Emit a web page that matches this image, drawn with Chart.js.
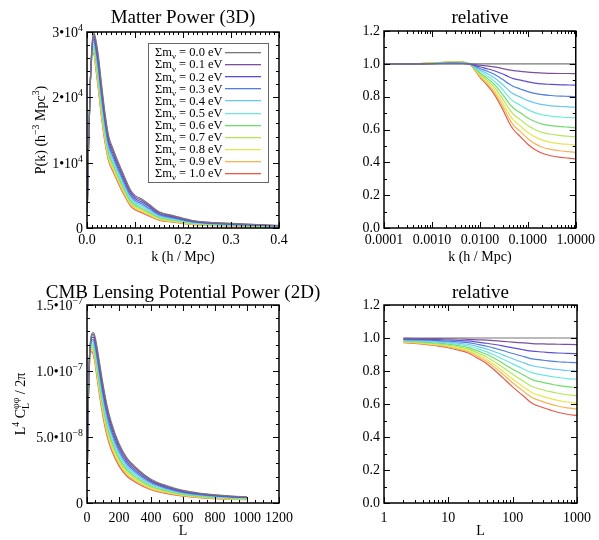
<!DOCTYPE html>
<html>
<head>
<meta charset="utf-8">
<title>Neutrino mass: matter power and CMB lensing power</title>
<script src="https://cdn.jsdelivr.net/npm/chart.js@4.4.1/dist/chart.umd.min.js"></script>
<style>
  html, body { margin: 0; padding: 0; background: #fff; }
  #wrap { position: relative; width: 599px; height: 540px; overflow: hidden; }
  #wrap canvas { position: absolute; }
</style>
</head>
<body>
<div id="wrap">
  <canvas id="matter" width="300" height="270" style="left:0;top:0"></canvas>
  <canvas id="lens" width="340" height="270" style="left:0;top:270px"></canvas>
  <canvas id="matterRel" width="299" height="270" style="left:300px;top:0"></canvas>
  <canvas id="lensRel" width="299" height="270" style="left:300px;top:270px"></canvas>
</div>
<script>
const FONT = '"Liberation Serif", "Times New Roman", Times, serif';

// summed neutrino masses (eV) and their line colours
const masses = ['0.0', '0.1', '0.2', '0.3', '0.4', '0.5', '0.6', '0.7', '0.8', '0.9', '1.0'];
const lineColors = ['#777777', '#7b4f9e', '#5e4fd0', '#4f7fe0', '#6cc8ee', '#6fe8dc',
                    '#72dc6e', '#b0e85a', '#e6e650', '#f4b455', '#e65a4a'];

// --- matter power P(k), h^-3 Mpc^3 (top left) ---
const kLin = [0.0005, 0.003, 0.007, 0.011, 0.014, 0.018, 0.024, 0.03, 0.037, 0.045, 0.055,
              0.065, 0.075, 0.09, 0.1, 0.115, 0.13, 0.15, 0.18, 0.22, 0.3, 0.4];
const pkMatter = [
  [2500, 12000, 22500, 28500, 30000, 29000, 26200, 22200, 17900, 14100, 12000, 10100, 8400, 5900, 5000, 4400, 3600, 2500, 1900, 1150, 700, 400],
  [2500, 12010, 22470, 28290, 29660, 28550, 25670, 21670, 17430, 13700, 11640, 9770, 8090, 5650, 4770, 4180, 3410, 2370, 1790, 1085, 660, 377],
  [2500, 12030, 22440, 28060, 29260, 28020, 25040, 21050, 16880, 13240, 11220, 9380, 7720, 5350, 4510, 3930, 3200, 2210, 1670, 1010, 614, 350],
  [2500, 12050, 22410, 27820, 28860, 27490, 24420, 20420, 16330, 12770, 10800, 8990, 7360, 5050, 4240, 3680, 2980, 2050, 1550, 935, 567, 323],
  [2500, 12060, 22380, 27590, 28490, 27000, 23840, 19850, 15810, 12340, 10410, 8630, 7020, 4770, 3990, 3440, 2780, 1900, 1430, 865, 524, 298],
  [2500, 12080, 22350, 27370, 28120, 26510, 23260, 19270, 15300, 11910, 10020, 8270, 6680, 4500, 3750, 3210, 2580, 1760, 1320, 795, 481, 273],
  [2500, 12090, 22320, 27170, 27780, 26060, 22730, 18740, 14830, 11520, 9660, 7930, 6370, 4240, 3520, 2990, 2390, 1620, 1210, 731, 441, 249],
  [2500, 12110, 22300, 26980, 27460, 25640, 22240, 18250, 14390, 11150, 9330, 7630, 6080, 4010, 3310, 2790, 2220, 1500, 1120, 671, 404, 228],
  [2500, 12120, 22280, 26810, 27180, 25270, 21790, 17800, 14000, 10820, 9030, 7350, 5820, 3800, 3120, 2610, 2070, 1390, 1030, 618, 371, 209],
  [2500, 12130, 22260, 26650, 26920, 24930, 21390, 17400, 13650, 10520, 8760, 7100, 5590, 3610, 2950, 2450, 1930, 1290, 950, 569, 341, 192],
  [2500, 12140, 22240, 26520, 26690, 24630, 21030, 17050, 13330, 10260, 8520, 6880, 5380, 3440, 2800, 2310, 1800, 1200, 880, 526, 314, 176]
];

// --- P(k) relative to the massless case (top right) ---
const kLog = [0.0001, 0.0003, 0.001, 0.002, 0.003, 0.0045, 0.006, 0.008, 0.01, 0.014, 0.02,
              0.03, 0.04, 0.05, 0.07, 0.1, 0.14, 0.2, 0.3, 0.5, 0.7, 1.0];
const pkRatio = [
  [1, 1, 1, 1, 1, 1, 1, 1, 1, 1, 1, 1, 1, 1, 1, 1, 1, 1, 1, 1, 1, 1],
  [1, 1, 1, 1.001, 1.001, 1.001, 1, 0.996, 0.992, 0.987, 0.981, 0.971, 0.963, 0.959, 0.954, 0.949, 0.946, 0.944, 0.942, 0.941, 0.941, 0.94],
  [1, 1, 1.001, 1.002, 1.003, 1.002, 1, 0.991, 0.982, 0.971, 0.958, 0.938, 0.921, 0.910, 0.901, 0.890, 0.883, 0.878, 0.875, 0.872, 0.871, 0.87],
  [1, 1, 1.002, 1.004, 1.005, 1.003, 1, 0.986, 0.972, 0.956, 0.936, 0.904, 0.878, 0.862, 0.847, 0.831, 0.820, 0.812, 0.807, 0.803, 0.802, 0.80],
  [1, 1, 1.002, 1.005, 1.006, 1.004, 1, 0.981, 0.963, 0.942, 0.915, 0.873, 0.838, 0.817, 0.797, 0.776, 0.762, 0.751, 0.744, 0.740, 0.738, 0.735],
  [1, 1, 1.002, 1.006, 1.008, 1.006, 1, 0.977, 0.954, 0.927, 0.894, 0.842, 0.799, 0.772, 0.748, 0.721, 0.703, 0.690, 0.682, 0.676, 0.673, 0.67],
  [1, 1, 1.003, 1.008, 1.009, 1.007, 1, 0.973, 0.945, 0.914, 0.875, 0.813, 0.762, 0.731, 0.702, 0.670, 0.649, 0.633, 0.624, 0.617, 0.614, 0.61],
  [1, 1, 1.003, 1.009, 1.011, 1.007, 1, 0.969, 0.938, 0.902, 0.858, 0.786, 0.729, 0.693, 0.660, 0.624, 0.600, 0.582, 0.571, 0.563, 0.559, 0.555],
  [1, 1, 1.004, 1.010, 1.012, 1.008, 1, 0.965, 0.931, 0.891, 0.842, 0.762, 0.698, 0.658, 0.621, 0.582, 0.555, 0.535, 0.522, 0.513, 0.510, 0.505],
  [1, 1, 1.004, 1.010, 1.013, 1.009, 1, 0.962, 0.924, 0.881, 0.827, 0.741, 0.671, 0.627, 0.587, 0.544, 0.514, 0.492, 0.479, 0.469, 0.465, 0.46],
  [1, 1, 1.004, 1.011, 1.014, 1.010, 1, 0.959, 0.919, 0.872, 0.814, 0.722, 0.646, 0.600, 0.556, 0.510, 0.478, 0.455, 0.440, 0.430, 0.426, 0.42]
];

// --- lensing potential power L^4 C_L / 2pi, in units of 1e-8 (bottom left) ---
const ell = [2, 5, 10, 15, 20, 30, 40, 50, 60, 80, 100, 125, 150, 200, 250, 300, 400, 500, 600, 700, 800, 900, 1000];
const clLens = [
  [2.40, 5.50, 9.00, 11.00, 12.00, 12.80, 12.90, 12.60, 12.00, 10.50, 9.00, 7.40, 6.20, 4.50, 3.40, 2.75, 1.80, 1.30, 0.95, 0.75, 0.62, 0.53, 0.47],
  [2.40, 5.48, 8.96, 10.94, 11.92, 12.69, 12.76, 12.43, 11.81, 10.29, 8.79, 7.20, 6.02, 4.36, 3.28, 2.65, 1.73, 1.25, 0.91, 0.72, 0.60, 0.51, 0.45],
  [2.39, 5.46, 8.91, 10.86, 11.82, 12.53, 12.56, 12.19, 11.54, 10.00, 8.50, 6.94, 5.78, 4.16, 3.12, 2.51, 1.64, 1.18, 0.86, 0.68, 0.56, 0.48, 0.43],
  [2.39, 5.44, 8.87, 10.79, 11.71, 12.38, 12.36, 11.96, 11.28, 9.71, 8.22, 6.67, 5.53, 3.96, 2.96, 2.38, 1.55, 1.11, 0.81, 0.64, 0.53, 0.45, 0.40],
  [2.38, 5.42, 8.82, 10.71, 11.62, 12.24, 12.18, 11.74, 11.04, 9.45, 7.96, 6.42, 5.31, 3.78, 2.82, 2.26, 1.46, 1.05, 0.77, 0.60, 0.50, 0.42, 0.38],
  [2.38, 5.40, 8.78, 10.64, 11.52, 12.10, 12.00, 11.53, 10.80, 9.19, 7.70, 6.18, 5.08, 3.60, 2.67, 2.13, 1.38, 0.99, 0.72, 0.57, 0.47, 0.40, 0.35],
  [2.37, 5.38, 8.73, 10.57, 11.42, 11.96, 11.82, 11.31, 10.56, 8.93, 7.43, 5.93, 4.86, 3.42, 2.52, 2.01, 1.29, 0.93, 0.67, 0.53, 0.44, 0.37, 0.33],
  [2.37, 5.37, 8.69, 10.50, 11.33, 11.81, 11.64, 11.10, 10.32, 8.66, 7.17, 5.69, 4.64, 3.24, 2.38, 1.88, 1.21, 0.86, 0.63, 0.49, 0.41, 0.34, 0.31],
  [2.36, 5.35, 8.64, 10.44, 11.24, 11.69, 11.47, 10.91, 10.10, 8.43, 6.94, 5.47, 4.44, 3.08, 2.25, 1.77, 1.13, 0.81, 0.59, 0.46, 0.38, 0.32, 0.28],
  [2.36, 5.33, 8.61, 10.39, 11.17, 11.59, 11.35, 10.76, 9.94, 8.24, 6.76, 5.30, 4.28, 2.95, 2.14, 1.69, 1.07, 0.76, 0.55, 0.43, 0.36, 0.30, 0.27],
  [2.35, 5.32, 8.58, 10.33, 11.10, 11.48, 11.20, 10.59, 9.74, 8.03, 6.55, 5.10, 4.10, 2.81, 2.03, 1.59, 1.00, 0.71, 0.52, 0.40, 0.33, 0.28, 0.25]
];

// --- lensing power relative to the massless case (bottom right) ---
const ellRel = [2, 3, 5, 7, 10, 15, 20, 30, 40, 50, 70, 100, 150, 200, 300, 400, 500, 700, 1000];
const clRatio = [
  [1, 1, 1, 1, 1, 1, 1, 1, 1, 1, 1, 1, 1, 1, 1, 1, 1, 1, 1],
  [0.998, 0.997, 0.996, 0.996, 0.995, 0.994, 0.992, 0.989, 0.987, 0.984, 0.980, 0.975, 0.970, 0.966, 0.964, 0.963, 0.962, 0.961, 0.960],
  [0.994, 0.993, 0.991, 0.990, 0.988, 0.985, 0.982, 0.974, 0.968, 0.962, 0.952, 0.940, 0.928, 0.920, 0.915, 0.911, 0.909, 0.907, 0.905],
  [0.991, 0.990, 0.987, 0.984, 0.981, 0.976, 0.972, 0.960, 0.950, 0.940, 0.924, 0.906, 0.887, 0.874, 0.865, 0.860, 0.856, 0.853, 0.850],
  [0.988, 0.986, 0.982, 0.979, 0.975, 0.968, 0.962, 0.946, 0.933, 0.920, 0.898, 0.874, 0.849, 0.832, 0.820, 0.813, 0.809, 0.803, 0.800],
  [0.985, 0.983, 0.978, 0.974, 0.969, 0.960, 0.953, 0.933, 0.916, 0.900, 0.873, 0.843, 0.811, 0.790, 0.775, 0.766, 0.761, 0.754, 0.750],
  [0.982, 0.979, 0.973, 0.969, 0.963, 0.952, 0.943, 0.919, 0.900, 0.880, 0.847, 0.811, 0.774, 0.748, 0.730, 0.720, 0.713, 0.705, 0.700],
  [0.979, 0.976, 0.969, 0.963, 0.956, 0.944, 0.934, 0.906, 0.883, 0.860, 0.822, 0.780, 0.736, 0.706, 0.685, 0.673, 0.665, 0.656, 0.650],
  [0.976, 0.972, 0.964, 0.959, 0.951, 0.937, 0.925, 0.893, 0.868, 0.842, 0.799, 0.751, 0.702, 0.668, 0.645, 0.631, 0.622, 0.612, 0.605],
  [0.974, 0.970, 0.961, 0.955, 0.946, 0.931, 0.918, 0.884, 0.856, 0.828, 0.781, 0.729, 0.675, 0.639, 0.613, 0.598, 0.588, 0.577, 0.570],
  [0.972, 0.967, 0.958, 0.951, 0.941, 0.925, 0.911, 0.873, 0.843, 0.812, 0.760, 0.704, 0.645, 0.605, 0.577, 0.561, 0.550, 0.538, 0.530]
];

// tick values and labels
const matterXTicks = [0, 0.1, 0.2, 0.3, 0.4];
const matterXLabels = ['0.0', '0.1', '0.2', '0.3', '0.4'];
const matterYTicks = [0, 10000, 20000, 30000];
const matterYLabels = [['0', ''], ['1•10', '4'], ['2•10', '4'], ['3•10', '4']];
const kDecades = [0.0001, 0.001, 0.01, 0.1, 1];
const kDecadeLabels = ['0.0001', '0.0010', '0.0100', '0.1000', '1.0000'];
const lensXTicks = [0, 200, 400, 600, 800, 1000, 1200];
const lensXLabels = ['0', '200', '400', '600', '800', '1000', '1200'];
const lensYTicks = [0, 5, 10, 15];
const lensYLabels = [['0', ''], ['5.0•10', '−8'], ['1.0•10', '−7'], ['1.5•10', '−7']];
const ellDecades = [1, 10, 100, 1000];
const ellDecadeLabels = ['1', '10', '100', '1000'];
const ratioTicks = [0, 0.2, 0.4, 0.6, 0.8, 1.0, 1.2];
const ratioLabels = ['0.0', '0.2', '0.4', '0.6', '0.8', '1.0', '1.2'];

function steps(lo, hi, step) {
  const out = [];
  for (let v = lo; v <= hi + step * 1e-6; v += step) out.push(+v.toFixed(10));
  return out;
}
function logMinors(dLo, dHi) {
  const out = [];
  for (let d = dLo; d < dHi; d++) for (let m = 2; m <= 9; m++) out.push(m * Math.pow(10, d));
  return out;
}

// text with super/subscripts: parts are {t, s:'sup'|'sub'} or {sub, sup} stacked
function drawRich(ctx, parts, x, y, size, align) {
  const small = size * 0.7;
  const font = s => s + 'px ' + FONT;
  const width = p => {
    if (p.t === undefined) {
      ctx.font = font(small);
      return Math.max(ctx.measureText(p.sub || '').width, ctx.measureText(p.sup || '').width);
    }
    ctx.font = font(p.s ? small : size);
    return ctx.measureText(p.t).width;
  };
  const total = parts.reduce((acc, p) => acc + width(p), 0);
  let cx = align === 'right' ? x - total : align === 'center' ? x - total / 2 : x;
  ctx.textAlign = 'left';
  ctx.textBaseline = 'alphabetic';
  ctx.fillStyle = '#000';
  for (const p of parts) {
    const w = width(p);
    if (p.t === undefined) {
      ctx.font = font(small);
      if (p.sup) ctx.fillText(p.sup, cx, y - size * 0.42);
      if (p.sub) ctx.fillText(p.sub, cx, y + size * 0.25);
    } else {
      ctx.font = font(p.s ? small : size);
      const dy = p.s === 'sup' ? -size * 0.42 : p.s === 'sub' ? size * 0.25 : 0;
      ctx.fillText(p.t, cx, y + dy);
    }
    cx += w;
  }
}

// panel title, frame with inward ticks on all sides, rich y labels/title, legend
const decorPlugin = {
  id: 'decor',
  afterDatasetsDraw(chart, args, o) {
    const { ctx, chartArea: a } = chart;
    const sx = chart.scales.x, sy = chart.scales.y;
    ctx.save();
    ctx.strokeStyle = '#000';
    ctx.lineWidth = 1;
    ctx.beginPath();
    const xMarks = (vals, len) => vals.forEach(v => {
      const p = Math.round(sx.getPixelForValue(v)) + 0.5;
      ctx.moveTo(p, a.bottom); ctx.lineTo(p, a.bottom - len);
      ctx.moveTo(p, a.top); ctx.lineTo(p, a.top + len);
    });
    const yMarks = (vals, len) => vals.forEach(v => {
      const p = Math.round(sy.getPixelForValue(v)) + 0.5;
      ctx.moveTo(a.left, p); ctx.lineTo(a.left + len, p);
      ctx.moveTo(a.right, p); ctx.lineTo(a.right - len, p);
    });
    xMarks(o.xMinor, 3); xMarks(o.xMajor, 6);
    yMarks(o.yMinor, 3); yMarks(o.yMajor, 6);
    ctx.stroke();
    ctx.lineWidth = 1.5;
    ctx.strokeRect(a.left, a.top, a.right - a.left, a.bottom - a.top);

    // title, centred over the plot box (may run past it)
    ctx.fillStyle = '#000';
    ctx.font = '19px ' + FONT;
    ctx.textAlign = 'center';
    ctx.textBaseline = 'alphabetic';
    ctx.fillText(o.title, (a.left + a.right) / 2, o.titleY);

    if (o.yRich) {
      o.yRich.forEach((lab, i) => {
        const parts = [{ t: lab[0] }];
        if (lab[1]) parts.push({ t: lab[1], s: 'sup' });
        drawRich(ctx, parts, a.left - 4, sy.getPixelForValue(o.yMajor[i]) + 5, 14, 'right');
      });
    }
    if (o.yTitle) {
      ctx.save();
      ctx.translate(o.yTitleX, (a.top + a.bottom) / 2);
      ctx.rotate(-Math.PI / 2);
      drawRich(ctx, o.yTitle, 0, 5, 14, 'center');
      ctx.restore();
    }
    if (o.legend) {
      const L = o.legend;
      ctx.fillStyle = '#fff';
      ctx.fillRect(L.x, L.y, L.w, L.h);
      ctx.strokeStyle = '#666';
      ctx.lineWidth = 1;
      ctx.strokeRect(L.x + 0.5, L.y + 0.5, L.w, L.h);
      const swatches = chart.data.datasets.map(ds => ds.borderColor);
      masses.forEach((m, i) => {
        const yc = L.y + 9 + i * L.step;
        drawRich(ctx, [{ t: 'Σm' }, { t: 'ν', s: 'sub' }, { t: ' = ' + m + ' eV' }],
                 L.x + 7, yc + 4.3, 12.5, 'left');
        ctx.fillStyle = swatches[i];
        ctx.fillRect(L.x + 77, Math.round(yc), 36, 1.3);
      });
    }
    ctx.restore();
  }
};

function makePanel(id, p) {
  const datasets = p.rows.map((row, i) => ({
    label: 'Σmν = ' + masses[i] + ' eV',
    data: p.xs.map((x, j) => ({ x: x, y: row[j] })),
    borderColor: lineColors[i],
    borderWidth: 1.2,
    pointRadius: 0,
    fill: false,
    cubicInterpolationMode: 'monotone'
  }));
  const tickFont = { family: FONT, size: 14 };
  return new Chart(document.getElementById(id), {
    type: 'line',
    data: { datasets: datasets },
    options: {
      responsive: false,
      animation: false,
      devicePixelRatio: 1,
      layout: { padding: p.padding },
      plugins: {
        legend: { display: false },
        tooltip: { enabled: false },
        title: { display: false },
        decor: {
          title: p.title, titleY: p.titleY,
          xMajor: p.xTicks, xMinor: p.xMinor, yMajor: p.yTicks, yMinor: p.yMinor,
          yRich: p.yRich, yTitle: p.yTitle, yTitleX: p.yTitleX, legend: p.legend
        }
      },
      scales: {
        x: {
          type: p.xType, min: p.xMin, max: p.xMax,
          afterBuildTicks: s => { s.ticks = p.xTicks.map(v => ({ value: v })); },
          afterFit: s => { s.height = p.xh; },
          grid: { display: false, drawTicks: false }, border: { display: false },
          ticks: {
            color: '#000', font: tickFont, padding: p.xTickPad, maxRotation: 0, autoSkip: false,
            callback: (v, i) => p.xLabels[i]
          },
          title: {
            display: true, text: p.xTitle, color: '#000', font: tickFont,
            padding: { top: 0, bottom: p.xTitlePad }
          }
        },
        y: {
          type: 'linear', min: p.yMin, max: p.yMax,
          afterBuildTicks: s => { s.ticks = p.yTicks.map(v => ({ value: v })); },
          afterFit: s => { s.width = p.yw; },
          grid: { display: false, drawTicks: false }, border: { display: false },
          ticks: {
            display: !p.yRich, color: '#000', font: tickFont, padding: 4,
            callback: (v, i) => p.yLabels ? p.yLabels[i] : ''
          }
        }
      }
    },
    plugins: [decorPlugin]
  });
}

makePanel('matter', {
  title: 'Matter Power (3D)', titleY: 23, xs: kLin, rows: pkMatter,
  xType: 'linear', xMin: 0, xMax: 0.4, xTicks: matterXTicks, xLabels: matterXLabels,
  xMinor: steps(0, 0.4, 0.01), xTitle: 'k (h / Mpc)',
  yMin: 0, yMax: 30000, yTicks: matterYTicks, yRich: matterYLabels, yMinor: steps(0, 30000, 2000),
  yTitle: [{ t: 'P(k) (h' }, { t: '−3', s: 'sup' }, { t: ' Mpc' }, { t: '3', s: 'sup' }, { t: ')' }],
  yTitleX: 40,
  legend: { x: 148, y: 43, w: 120, h: 139, step: 12.1 },
  padding: { left: 0, right: 21, top: 32, bottom: 0 },
  yw: 87, xh: 42, xTickPad: 4, xTitlePad: 4
});

makePanel('matterRel', {
  title: 'relative', titleY: 23, xs: kLog, rows: pkRatio,
  xType: 'logarithmic', xMin: 0.0001, xMax: 1, xTicks: kDecades, xLabels: kDecadeLabels,
  xMinor: logMinors(-4, 0), xTitle: 'k (h / Mpc)',
  yMin: 0, yMax: 1.2, yTicks: ratioTicks, yLabels: ratioLabels, yMinor: steps(0, 1.2, 0.1),
  padding: { left: 0, right: 22, top: 31, bottom: 0 },
  yw: 84, xh: 42, xTickPad: 4, xTitlePad: 4
});

makePanel('lens', {
  title: 'CMB Lensing Potential Power (2D)', titleY: 28, xs: ell, rows: clLens,
  xType: 'linear', xMin: 0, xMax: 1200, xTicks: lensXTicks, xLabels: lensXLabels,
  xMinor: steps(0, 1200, 50), xTitle: 'L',
  yMin: 0, yMax: 15, yTicks: lensYTicks, yRich: lensYLabels, yMinor: steps(0, 15, 1),
  yTitle: [{ t: 'L' }, { t: '4', s: 'sup' }, { t: ' C' }, { sub: 'L', sup: 'φφ' }, { t: ' / 2π' }],
  yTitleX: 20,
  padding: { left: 0, right: 61, top: 35, bottom: 0 },
  yw: 87, xh: 37, xTickPad: 7, xTitlePad: 0
});

makePanel('lensRel', {
  title: 'relative', titleY: 28, xs: ellRel, rows: clRatio,
  xType: 'logarithmic', xMin: 1, xMax: 1000, xTicks: ellDecades, xLabels: ellDecadeLabels,
  xMinor: logMinors(0, 3), xTitle: 'L',
  yMin: 0, yMax: 1.2, yTicks: ratioTicks, yLabels: ratioLabels, yMinor: steps(0, 1.2, 0.1),
  padding: { left: 0, right: 22, top: 35, bottom: 0 },
  yw: 84, xh: 37, xTickPad: 7, xTitlePad: 0
});
</script>
</body>
</html>
